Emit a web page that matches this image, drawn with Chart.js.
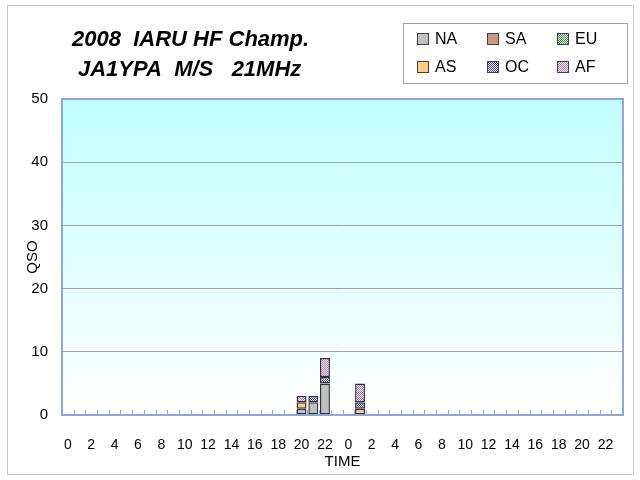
<!DOCTYPE html>
<html lang="en">
<head>
  <meta charset="UTF-8">
  <title>2008 IARU HF Champ. JA1YPA M/S 21MHz</title>
  <script src="https://cdn.jsdelivr.net/npm/chart.js"></script>
  <style>
    html, body { margin: 0; padding: 0; background: #fff; }
    #wrap { width: 640px; height: 480px; }
  </style>
</head>
<body>
  <div id="wrap"><canvas id="qsoChart" width="640" height="480"></canvas></div>

  <script>
    // hours over the two contest days
    const hours = ['0','1','2','3','4','5','6','7','8','9','10','11','12','13','14','15','16','17','18','19','20','21','22','23',
                   '0','1','2','3','4','5','6','7','8','9','10','11','12','13','14','15','16','17','18','19','20','21','22','23'];

    // QSOs per hour, by continent
    const na = [0,0,0,0,0,0,0,0,0,0,0,0,0,0,0,0,0,0,0,0,1,2,5,0, 0,0,0,0,0,0,0,0,0,0,0,0,0,0,0,0,0,0,0,0,0,0,0,0];
    const sa = [0,0,0,0,0,0,0,0,0,0,0,0,0,0,0,0,0,0,0,0,0,0,0,0, 0,0,0,0,0,0,0,0,0,0,0,0,0,0,0,0,0,0,0,0,0,0,0,0];
    const eu = [0,0,0,0,0,0,0,0,0,0,0,0,0,0,0,0,0,0,0,0,0,0,0,0, 0,0,0,0,0,0,0,0,0,0,0,0,0,0,0,0,0,0,0,0,0,0,0,0];
    const as = [0,0,0,0,0,0,0,0,0,0,0,0,0,0,0,0,0,0,0,0,1,0,0,0, 0,1,0,0,0,0,0,0,0,0,0,0,0,0,0,0,0,0,0,0,0,0,0,0];
    const oc = [0,0,0,0,0,0,0,0,0,0,0,0,0,0,0,0,0,0,0,0,0,1,1,0, 0,1,0,0,0,0,0,0,0,0,0,0,0,0,0,0,0,0,0,0,0,0,0,0];
    const af = [0,0,0,0,0,0,0,0,0,0,0,0,0,0,0,0,0,0,0,0,1,0,3,0, 0,3,0,0,0,0,0,0,0,0,0,0,0,0,0,0,0,0,0,0,0,0,0,0];

    const yTicks = [0, 10, 20, 30, 40, 50];
    const titleLines = ['2008  IARU HF Champ.', 'JA1YPA  M/S   21MHz'];
    const FONT = '"Liberation Sans", Arial, sans-serif';

    // checkered fill like the spreadsheet hatch patterns
    function checker(fg, bg) {
      const c = document.createElement('canvas');
      c.width = 2; c.height = 2;
      const g = c.getContext('2d');
      g.fillStyle = bg; g.fillRect(0, 0, 2, 2);
      g.fillStyle = fg; g.fillRect(0, 0, 1, 1); g.fillRect(1, 1, 1, 1);
      return g.createPattern(c, 'repeat');
    }

    const series = [
      { label: 'NA', data: na, fill: '#c0c0c0' },
      { label: 'SA', data: sa, fill: '#cc9980' },
      { label: 'EU', data: eu, fill: checker('#339933', '#ffffff') },
      { label: 'AS', data: as, fill: '#ffcc80' },
      { label: 'OC', data: oc, fill: checker('#3333cc', '#ffffff') },
      { label: 'AF', data: af, fill: checker('#cc66cc', '#ffffff') }
    ];

    // background, frame, titles and legend drawn around the plot
    const decor = {
      id: 'decor',
      beforeDraw(chart) {
        const { ctx, chartArea: a } = chart;
        ctx.save();
        ctx.fillStyle = '#fff';
        ctx.fillRect(0, 0, chart.width, chart.height);
        const grad = ctx.createLinearGradient(0, a.top, 0, a.bottom);
        grad.addColorStop(0, '#c0ffff');
        grad.addColorStop(1, '#ffffff');
        ctx.fillStyle = grad;
        ctx.fillRect(a.left, a.top, a.right - a.left, a.bottom - a.top);
        ctx.restore();
      },
      afterDraw(chart) {
        const { ctx, chartArea: a } = chart;
        const xs = chart.scales.x;
        ctx.save();

        // outer frame
        ctx.strokeStyle = '#c8c8c8';
        ctx.lineWidth = 1;
        ctx.strokeRect(7.5, 5.5, 626, 469);

        // plot border
        ctx.strokeStyle = '#8ea6dc';
        ctx.lineWidth = 2;
        ctx.strokeRect(a.left, a.top, a.right - a.left, a.bottom - a.top);

        // inward tick marks between categories
        ctx.lineWidth = 1;
        const w = (a.right - a.left) / hours.length;
        for (let i = 0; i <= hours.length; i++) {
          const x = Math.round(xs.getPixelForValue(0) - w / 2 + i * w) + 0.5;
          ctx.beginPath();
          ctx.moveTo(x, a.bottom);
          ctx.lineTo(x, a.bottom - 5);
          ctx.stroke();
        }

        // axis titles
        ctx.fillStyle = '#000';
        ctx.font = '15px ' + FONT;
        ctx.textAlign = 'center';
        ctx.textBaseline = 'middle';
        ctx.fillText('TIME', (a.left + a.right) / 2, 462);
        ctx.save();
        ctx.translate(33, 257);
        ctx.rotate(-Math.PI / 2);
        ctx.fillText('QSO', 0, 0);
        ctx.restore();

        // chart title
        ctx.textAlign = 'left';
        ctx.font = 'italic bold 22px ' + FONT;
        ctx.fillText(titleLines[0], 72, 40);
        ctx.fillText(titleLines[1], 78, 70);

        // legend box
        ctx.fillStyle = '#fff';
        ctx.fillRect(403, 23, 224, 60);
        ctx.strokeStyle = '#a0a0a0';
        ctx.lineWidth = 1;
        ctx.strokeRect(403.5, 23.5, 224, 60);
        ctx.font = '16px ' + FONT;
        chart.data.datasets.forEach((ds, i) => {
          const col = i % 3, row = Math.floor(i / 3);
          const x = 417 + col * 70, y = 39 + row * 28;
          ctx.fillStyle = ds.backgroundColor;
          ctx.fillRect(x, y - 6, 12, 12);
          ctx.strokeStyle = '#404040';
          ctx.strokeRect(x + 0.5, y - 5.5, 11, 11);
          ctx.fillStyle = '#000';
          ctx.fillText(ds.label, x + 18, y + 1);
        });
        ctx.restore();
      }
    };

    new Chart(document.getElementById('qsoChart'), {
      type: 'bar',
      data: {
        labels: hours,
        datasets: series.map(s => ({
          label: s.label,
          data: s.data.map(v => v === 0 ? null : v),
          backgroundColor: s.fill,
          borderColor: '#333333',
          borderWidth: 1.5,
          borderSkipped: false,
          barPercentage: 0.85,
          categoryPercentage: 1.0
        }))
      },
      options: {
        responsive: false,
        animation: false,
        layout: { padding: { top: 99, right: 17, left: 0, bottom: 0 } },
        plugins: {
          legend: { display: false },
          title: { display: false },
          tooltip: { enabled: false }
        },
        scales: {
          x: {
            stacked: true,
            grid: { display: false },
            border: { display: false },
            ticks: {
              autoSkip: false,
              maxRotation: 0,
              padding: 14,
              color: '#000',
              font: { family: FONT, size: 14 },
              callback: (v, i) => (i % 2 === 0 ? hours[i] : '')
            },
            afterFit: s => { s.height = 65; }
          },
          y: {
            stacked: true,
            min: yTicks[0],
            max: yTicks[yTicks.length - 1],
            afterBuildTicks: s => { s.ticks = yTicks.map(v => ({ value: v })); },
            grid: { color: '#a0a0a0', drawTicks: false },
            border: { display: false },
            ticks: {
              padding: 14,
              color: '#000',
              font: { family: FONT, size: 15 }
            },
            afterFit: s => { s.width = 62; }
          }
        }
      },
      plugins: [decor]
    });
  </script>
</body>
</html>
